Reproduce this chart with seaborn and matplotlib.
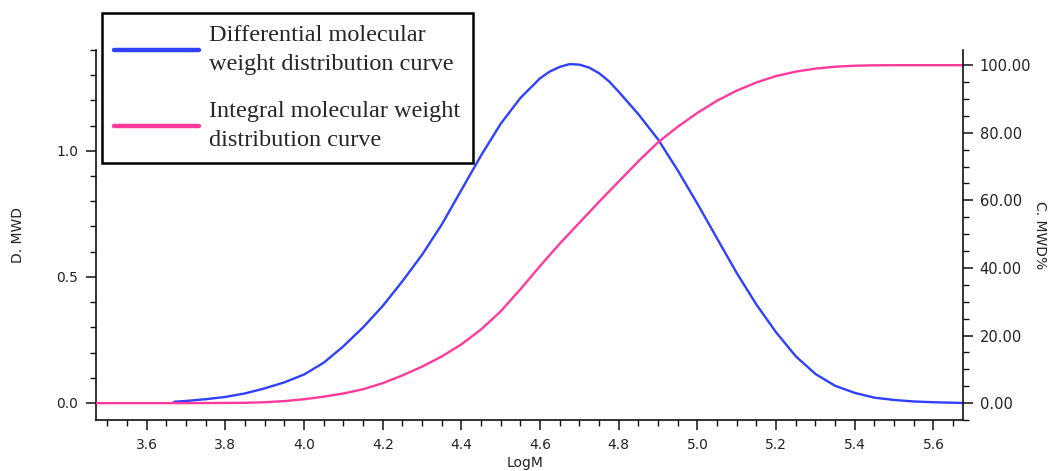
import numpy as np
import pandas as pd
import seaborn as sns
import matplotlib.pyplot as plt
from matplotlib.ticker import MultipleLocator, FormatStrFormatter

# differential curve (left axis)
logm_d = [3.67, 3.70, 3.75, 3.80, 3.85, 3.90, 3.95, 4.00, 4.05, 4.10, 4.15, 4.20,
          4.25, 4.30, 4.35, 4.40, 4.45, 4.50, 4.55, 4.60, 4.625, 4.65, 4.675, 4.70,
          4.725, 4.75, 4.775, 4.80, 4.85, 4.90, 4.95, 5.00, 5.05, 5.10, 5.15, 5.20,
          5.25, 5.30, 5.35, 5.40, 5.45, 5.50, 5.55, 5.60, 5.675]
dmwd = [0.005, 0.008, 0.015, 0.024, 0.038, 0.058, 0.082, 0.113, 0.160, 0.225, 0.300, 0.385,
        0.483, 0.588, 0.708, 0.845, 0.982, 1.108, 1.210, 1.288, 1.315, 1.333, 1.344, 1.342,
        1.330, 1.308, 1.276, 1.234, 1.145, 1.045, 0.922, 0.790, 0.652, 0.515, 0.390, 0.280,
        0.185, 0.115, 0.068, 0.040, 0.021, 0.012, 0.006, 0.003, 0.0]

# integral curve (right axis, %)
logm_c = [3.471, 3.70, 3.80, 3.85, 3.90, 3.95, 4.00, 4.05, 4.10, 4.15, 4.20, 4.25,
          4.30, 4.35, 4.40, 4.45, 4.50, 4.55, 4.60, 4.65, 4.70, 4.75, 4.80, 4.85,
          4.90, 4.95, 5.00, 5.05, 5.10, 5.15, 5.20, 5.25, 5.30, 5.35, 5.40, 5.45,
          5.50, 5.675]
cmwd = [0.0, 0.0, 0.05, 0.1, 0.25, 0.6, 1.15, 1.9, 2.85, 4.1, 5.9, 8.2,
        10.8, 13.8, 17.4, 21.8, 27.2, 33.7, 40.6, 47.2, 53.4, 59.6, 65.6, 71.6,
        77.2, 81.8, 85.9, 89.5, 92.5, 94.9, 96.8, 98.1, 99.0, 99.55, 99.85, 99.97,
        100.0, 100.0]

labels = ["Differential molecular\nweight distribution curve",
          "Integral molecular weight\ndistribution curve"]

blue = "#3040ff"
pink = "#ff3a9c"

sns.set_style("ticks")
plt.rcParams["font.family"] = ["DejaVu Sans"]

fig = plt.figure(figsize=(10.48, 4.71), dpi=100)
ax = fig.add_axes([96 / 1048, 1 - 420 / 471, 867 / 1048, 370 / 471])

df_d = pd.DataFrame({"logm": logm_d, "val": dmwd})
df_c = pd.DataFrame({"logm": logm_c, "val": cmwd})

sns.lineplot(data=df_d, x="logm", y="val", ax=ax, color=blue, linewidth=1.7,
             solid_joinstyle="round")
ax2 = ax.twinx()
sns.lineplot(data=df_c, x="logm", y="val", ax=ax2, color=pink, linewidth=1.7,
             solid_joinstyle="round")

ax.set_xlim(3.471, 5.675)
ax.set_ylim(-0.0675, 1.4)
ax2.set_ylim(-5.0, 104.5)

ax.xaxis.set_major_locator(MultipleLocator(0.2))
ax.xaxis.set_minor_locator(MultipleLocator(0.05))
ax.xaxis.set_major_formatter(FormatStrFormatter("%.1f"))
ax.set_yticks([0.0, 0.5, 1.0])
ax.yaxis.set_minor_locator(MultipleLocator(0.1))
ax.yaxis.set_major_formatter(FormatStrFormatter("%.1f"))
ax2.set_yticks([0, 20, 40, 60, 80, 100])
ax2.yaxis.set_minor_locator(MultipleLocator(5))
ax2.yaxis.set_major_formatter(FormatStrFormatter("%.2f"))

for a in (ax, ax2):
    a.tick_params(which="major", length=7, width=1.1, pad=6, labelsize=10,
                  labelcolor="#222222", color="#111111")
    a.tick_params(which="minor", length=4, width=1.0, color="#111111")
    a.spines["top"].set_visible(False)
    for s in a.spines.values():
        s.set_linewidth(1.2)
        s.set_color("#111111")
ax.spines["right"].set_visible(False)
ax2.spines["left"].set_visible(False)
ax2.spines["bottom"].set_visible(False)
ax2.tick_params(axis="y", which="major", labelsize=10.5, pad=5)

ax.set_xlabel("LogM", fontsize=10, color="#222222")
ax.set_ylabel("D. MWD", fontsize=10, color="#222222")
ax2.set_ylabel("C. MWD%", fontsize=10, color="#222222", rotation=270)
ax.xaxis.set_label_coords((525 - 96) / 867, (420 - 463) / 370)
ax.xaxis.label.set_va("center")
ax.yaxis.set_label_coords((18 - 96) / 867, 0.5)
ax.yaxis.label.set_va("center")
ax2.yaxis.set_label_coords((1040 - 96) / 867, 0.5)
ax2.yaxis.label.set_va("center")

handles = [ax.get_lines()[0], ax2.get_lines()[0]]
leg = fig.legend(handles, labels, loc="upper left",
                 bbox_to_anchor=(102 / 1048, 1 - 13 / 471), bbox_transform=fig.transFigure,
                 borderaxespad=0, frameon=True, fancybox=False, framealpha=1,
                 edgecolor="black", handlelength=3.5, handletextpad=0.42,
                 borderpad=0.5, labelspacing=1.05,
                 prop={"family": "Liberation Serif", "size": 17.5})
leg.get_frame().set_linewidth(1.8)
for t in leg.get_texts():
    t.set_linespacing(1.52)
for ln in leg.get_lines():
    ln.set_linewidth(3.2)

fig.savefig("out.png", dpi=100)
